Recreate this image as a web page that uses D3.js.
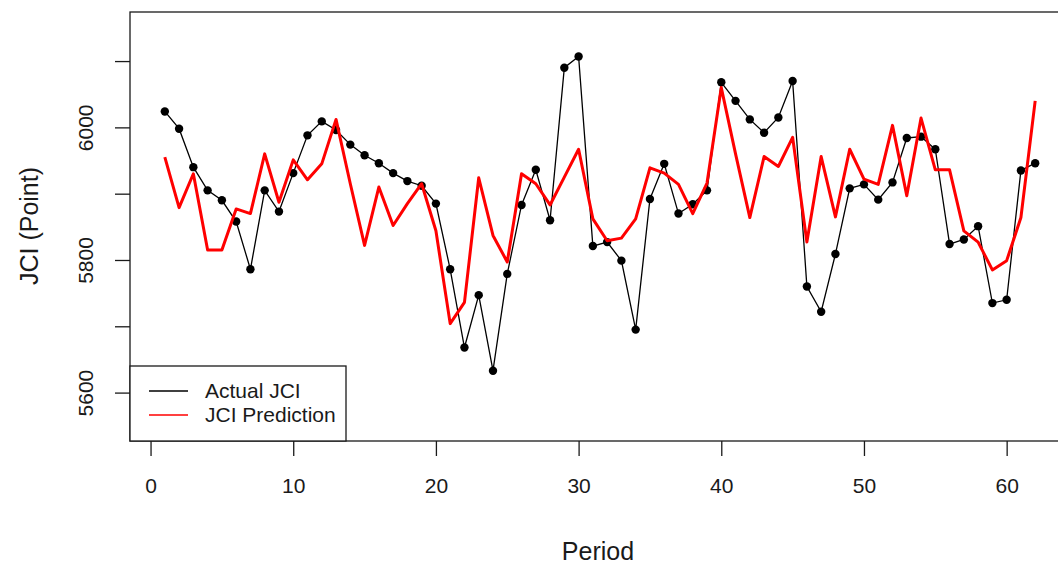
<!DOCTYPE html>
<html>
<head>
<meta charset="utf-8">
<script src="https://cdn.jsdelivr.net/npm/d3@7"></script>
<style>
  body { margin: 0; background: #fff; }
  text { font-family: "Liberation Sans", Arial, sans-serif; fill: #1a1a1a; }
</style>
</head>
<body>
<div id="chart"></div>
<script>
// Data
const periods = d3.range(1, 63)

const actualJCI = [
  6024, 5998, 5940, 5905, 5890, 5858, 5786, 5905, 5873, 5931,
  5988, 6009, 5996, 5974, 5958, 5946, 5931, 5919, 5912, 5885,
  5786, 5668, 5747, 5633, 5779, 5883, 5936, 5860, 6090, 6107,
  5821, 5827, 5799, 5695, 5892, 5945, 5870, 5884, 5905, 6068,
  6040, 6012, 5992, 6015, 6070, 5760, 5722, 5809, 5908, 5914,
  5891, 5917, 5984, 5986, 5967, 5824, 5831, 5851, 5735, 5740,
  5935, 5946
]

const predictedJCI = [
  5955, 5879, 5930, 5815, 5815, 5877, 5870, 5960, 5887, 5951,
  5921, 5945, 6012, 5915, 5822, 5910, 5852, 5885, 5915, 5844,
  5704, 5736, 5924, 5837, 5797, 5930, 5915, 5883, 5925, 5967,
  5862, 5829, 5833, 5862, 5939, 5931, 5914, 5870, 5916, 6060,
  5960, 5864, 5956, 5941, 5985, 5827, 5956, 5865, 5967, 5922,
  5914, 6003, 5897, 6014, 5936, 5936, 5844, 5827, 5785, 5799,
  5864, 6040
]

const xTicks = [0, 10, 20, 30, 40, 50, 60]
const yTicks = [5600, 5700, 5800, 5900, 6000, 6100]
const yLabels = [5600, 5800, 6000]
const legendNames = ["Actual JCI", "JCI Prediction"]
const legendColors = ["#000000", "#ff0000"]

/**
 * Sizes
 */
const width = 1058
const height = 564
const plot = { left: 130, top: 12, right: 1070, bottom: 441 }

const svg = d3.select("#chart")
  .append("svg")
    .attr("width", width)
    .attr("height", height)

// Scales (R style: 4% padding on the data range)
const x = d3.scaleLinear()
  .domain([-1.44, 64.44])
  .range([plot.left, plot.right])

const y = d3.scaleLinear()
  .domain([5527, 6174])
  .range([plot.bottom, plot.top])

// Clip for the data
svg.append("clipPath").attr("id", "clip")
  .append("rect")
    .attr("x", plot.left).attr("y", plot.top)
    .attr("width", plot.right - plot.left).attr("height", plot.bottom - plot.top)

const dataG = svg.append("g").attr("clip-path", "url(#clip)")

const line = d3.line()
  .x((d, i) => x(periods[i]))
  .y(d => y(d))

// Actual series: thin black line with filled dots
dataG.append("path")
  .datum(actualJCI)
  .attr("d", line)
  .attr("fill", "none")
  .attr("stroke", "#000")
  .attr("stroke-width", 1.3)

dataG.append("g")
  .selectAll("circle")
  .data(actualJCI)
  .enter()
  .append("circle")
    .attr("cx", (d, i) => x(periods[i]))
    .attr("cy", d => y(d))
    .attr("r", 4.2)
    .attr("fill", "#000")

// Prediction: thick red line
dataG.append("path")
  .datum(predictedJCI)
  .attr("d", line)
  .attr("fill", "none")
  .attr("stroke", "#ff0000")
  .attr("stroke-width", 3)
  .attr("stroke-linejoin", "round")

// Box around plot
svg.append("rect")
  .attr("x", plot.left)
  .attr("y", plot.top)
  .attr("width", plot.right - plot.left)
  .attr("height", plot.bottom - plot.top)
  .attr("fill", "none")
  .attr("stroke", "#1a1a1a")
  .attr("stroke-width", 1.3)

// Axes
const xAxis = svg.append("g")
  .attr("transform", "translate(0," + plot.bottom + ")")
  .call(d3.axisBottom(x).tickValues(xTicks).tickSize(15).tickPadding(22))
xAxis.select(".domain").remove()
xAxis.selectAll("line").attr("stroke", "#1a1a1a").attr("stroke-width", 1.3)
xAxis.selectAll("text")
  .style("font-size", "21px")
  .style("font-family", "'Liberation Sans', Arial, sans-serif")
  .attr("fill", "#1a1a1a")

const yAxis = svg.append("g")
  .attr("transform", "translate(" + plot.left + ",0)")
  .call(d3.axisLeft(y).tickValues(yTicks).tickSize(15)
    .tickFormat(d => yLabels.includes(d) ? d : ""))
yAxis.select(".domain").remove()
yAxis.selectAll("line").attr("stroke", "#1a1a1a").attr("stroke-width", 1.3)
yAxis.selectAll("text")
  .attr("x", null).attr("dy", null)
  .attr("text-anchor", "middle")
  .attr("transform", "translate(-44,0) rotate(-90)")
  .attr("dy", "0.35em")
  .style("font-size", "21px")
  .style("font-family", "'Liberation Sans', Arial, sans-serif")
  .attr("fill", "#1a1a1a")

// Axis titles
svg.append("text")
  .attr("text-anchor", "middle")
  .attr("x", 598)
  .attr("y", 560)
  .style("font-size", "25px")
  .text("Period")

svg.append("text")
  .attr("text-anchor", "middle")
  .attr("transform", "translate(38,226) rotate(-90)")
  .style("font-size", "25px")
  .text("JCI (Point)")

// Legend
const legend = svg.append("g")
legend.append("rect")
  .attr("x", plot.left)
  .attr("y", 366)
  .attr("width", 216)
  .attr("height", plot.bottom - 366)
  .attr("fill", "#fff")
  .attr("stroke", "#1a1a1a")
  .attr("stroke-width", 1.3)

legendNames.forEach((name, i) => {
  const ly = 391 + i * 24
  legend.append("line")
    .attr("x1", 149).attr("x2", 188)
    .attr("y1", ly).attr("y2", ly)
    .attr("stroke", legendColors[i])
    .attr("stroke-width", 1.3)
  legend.append("text")
    .attr("x", 205)
    .attr("y", ly)
    .attr("dy", "0.35em")
    .style("font-size", "21px")
    .text(name)
})
</script>
</body>
</html>
